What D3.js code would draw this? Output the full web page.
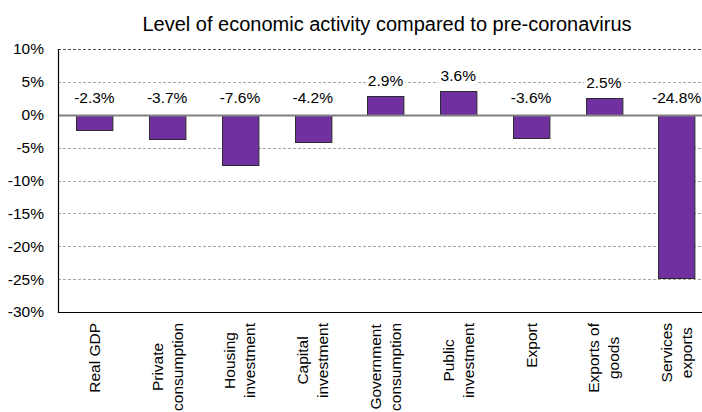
<!DOCTYPE html>
<html>
<head>
<meta charset="utf-8">
<script src="https://cdn.jsdelivr.net/npm/d3@7"></script>
<style>
  html, body { margin: 0; padding: 0; background: #fff; }
  svg { display: block; font-family: "Liberation Sans", Arial, sans-serif; }
</style>
</head>
<body>
<svg id="chart" width="702" height="412"></svg>
<script>
// Level of economic activity compared to pre-coronavirus (%)
const categories = [
  "Real GDP", "Private consumption", "Housing investment", "Capital investment",
  "Government consumption", "Public investment", "Export", "Exports of goods", "Services exports"
];
const categoryLines = [
  ["Real GDP"], ["Private", "consumption"], ["Housing", "investment"], ["Capital", "investment"],
  ["Government", "consumption"], ["Public", "investment"], ["Export"], ["Exports of", "goods"], ["Services", "exports"]
];
const values = [-2.3, -3.7, -7.6, -4.2, 2.9, 3.6, -3.6, 2.5, -24.8];
const yTicks = [-30, -25, -20, -15, -10, -5, 0, 5, 10];
const title = "Level of economic activity compared to pre-coronavirus";

const svg = d3.select("#chart");
const plot = { left: 58, right: 713, top: 49, bottom: 312 };

const x = d3.scaleBand()
  .domain(categories)
  .range([plot.left, plot.right])
  .paddingInner(0.5)
  .paddingOuter(0.25);

const y = d3.scaleLinear()
  .domain([-30, 10])
  .range([plot.bottom, plot.top]);

const fmt = v => v.toFixed(1) + "%";

// Title
svg.append("text")
  .attr("x", (plot.left + plot.right) / 2 + 1.5)
  .attr("y", 31)
  .attr("text-anchor", "middle")
  .attr("font-size", 20)
  .attr("fill", "#000")
  .text(title);

// Dashed gridlines
svg.append("g")
  .selectAll("line")
  .data(yTicks.filter(t => t !== 0 && t !== -30))
  .join("line")
  .attr("x1", plot.left)
  .attr("x2", plot.right)
  .attr("y1", d => Math.round(y(d)) + 0.5)
  .attr("y2", d => Math.round(y(d)) + 0.5)
  .attr("stroke", d => d === 10 ? "#555" : "#a6a6a6")
  .attr("stroke-width", 1)
  .attr("stroke-dasharray", "3,2");

// Y axis with percent labels
const yAxis = d3.axisLeft(y)
  .tickValues(yTicks)
  .tickSize(0)
  .tickPadding(14)
  .tickFormat(d => d + "%");

const yAxisG = svg.append("g")
  .attr("transform", `translate(${plot.left},0)`)
  .call(yAxis);
yAxisG.select(".domain").remove();
yAxisG.selectAll("text")
  .attr("font-size", 15.5)
  .attr("font-family", "Liberation Sans, Arial, sans-serif")
  .attr("fill", "#000");

// Bars
svg.append("g")
  .selectAll("rect")
  .data(values)
  .join("rect")
  .attr("x", (d, i) => Math.round(x(categories[i])) + 0.5)
  .attr("y", d => Math.round(y(Math.max(0, d))) + 0.5)
  .attr("width", x.bandwidth())
  .attr("height", d => Math.abs(Math.round(y(d)) - Math.round(y(0))))
  .attr("fill", "#7030a0")
  .attr("stroke", "#2b2b2b")
  .attr("stroke-width", 1);

// Zero line
svg.append("line")
  .attr("x1", plot.left)
  .attr("x2", plot.right)
  .attr("y1", Math.round(y(0)) + 0.5)
  .attr("y2", Math.round(y(0)) + 0.5)
  .attr("stroke", "#808080")
  .attr("stroke-width", 2);

// Axis frame: left and bottom
svg.append("line")
  .attr("x1", plot.left + 0.5).attr("x2", plot.left + 0.5)
  .attr("y1", plot.top).attr("y2", plot.bottom + 1)
  .attr("stroke", "#000").attr("stroke-width", 1.2);
svg.append("line")
  .attr("x1", plot.left).attr("x2", plot.right)
  .attr("y1", plot.bottom + 0.5).attr("y2", plot.bottom + 0.5)
  .attr("stroke", "#000").attr("stroke-width", 1.2);

// Value labels with white backing
const labelG = svg.append("g");
values.forEach((v, i) => {
  const cx = x(categories[i]) + x.bandwidth() / 2;
  const base = v >= 0 ? y(v) - 10 : y(0) - 12;
  const g = labelG.append("g");
  const t = g.append("text")
    .attr("x", cx)
    .attr("y", base)
    .attr("text-anchor", "middle")
    .attr("font-size", 15.5)
    .attr("fill", "#000")
    .text(fmt(v));
  const bb = t.node().getBBox();
  g.insert("rect", "text")
    .attr("x", bb.x - 2)
    .attr("y", bb.y)
    .attr("width", bb.width + 4)
    .attr("height", bb.height)
    .attr("fill", "#fff");
});

// Rotated category labels
const catG = svg.append("g");
categoryLines.forEach((lines, i) => {
  const cx = x(categories[i]) + x.bandwidth() / 2;
  const g = catG.append("g");
  const texts = lines.map((ln, k) => {
    const off = (k - (lines.length - 1) / 2) * 20;
    return g.append("text")
      .attr("font-size", 15.5)
      .attr("fill", "#000")
      .attr("text-anchor", "middle")
      .attr("data-off", off)
      .text(ln);
  });
  const maxLen = d3.max(texts, t => t.node().getComputedTextLength());
  const cy = 323 + maxLen / 2;
  texts.forEach(t => {
    const off = +t.attr("data-off");
    const bx = cx + off + 5.5;
    t.attr("transform", `translate(${bx},${cy}) rotate(-90)`);
  });
});
</script>
</body>
</html>
